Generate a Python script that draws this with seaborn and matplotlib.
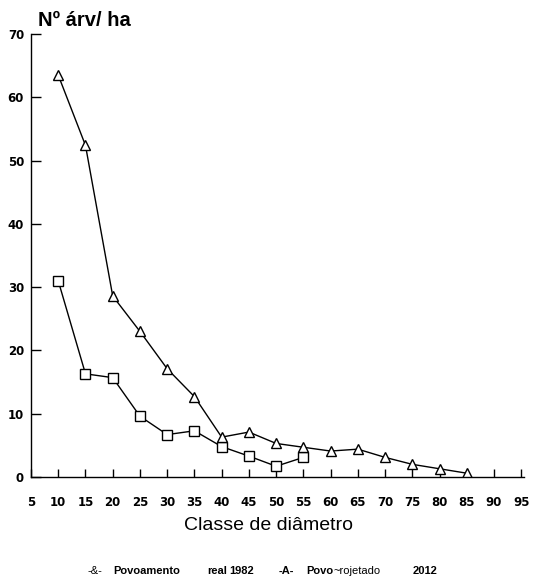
import matplotlib
matplotlib.use("Agg")
import matplotlib.pyplot as plt
import seaborn as sns
import pandas as pd

# Diameter classes (cm) and trees per hectare
classes_proj = [10, 15, 20, 25, 30, 35, 40, 45, 50, 55, 60, 65, 70, 75, 80, 85]
trees_proj = [63.5, 52.4, 28.6, 23.0, 17.1, 12.7, 6.3, 7.1, 5.3, 4.7, 4.1, 4.4, 3.1, 2.0, 1.3, 0.6]

classes_real = [10, 15, 20, 25, 30, 35, 40, 45, 50, 55]
trees_real = [31.0, 16.3, 15.7, 9.6, 6.7, 7.3, 4.8, 3.3, 1.7, 3.1]

x_ticks = list(range(5, 100, 5))
y_ticks = [0, 10, 20, 30, 40, 50, 60, 70]

sns.set_style("ticks")
plt.rcParams["font.family"] = ["DejaVu Sans"]
plt.rcParams["text.color"] = "black"
plt.rcParams["xtick.color"] = "black"
plt.rcParams["ytick.color"] = "black"

W, H = 535, 582
fig = plt.figure(figsize=(W / 100, H / 100), dpi=100)
ax = fig.add_axes([31 / W, (H - 477) / H, 493 / W, 443 / H])

df_real = pd.DataFrame({"classe": classes_real, "n": trees_real})
df_proj = pd.DataFrame({"classe": classes_proj, "n": trees_proj})

sns.lineplot(data=df_real, x="classe", y="n", ax=ax, color="black", lw=1.0,
             marker="s", markersize=6.5, markerfacecolor="white",
             markeredgecolor="black", markeredgewidth=1.0)
sns.lineplot(data=df_proj, x="classe", y="n", ax=ax, color="black", lw=1.0,
             marker="^", markersize=7.5, markerfacecolor="white",
             markeredgecolor="black", markeredgewidth=1.0)

ax.set_xlim(5, 95.5)
ax.set_ylim(0, 70)
ax.set_xticks(x_ticks)
ax.set_yticks(y_ticks)
ax.set_xticklabels([str(v) for v in x_ticks], fontsize=8.5, fontweight="bold", color="black")
ax.set_yticklabels([str(v) for v in y_ticks], fontsize=8.5, fontweight="bold", color="black")
ax.tick_params(axis="x", direction="in", length=6, width=1, pad=14)
ax.tick_params(axis="y", direction="in", length=7, width=1, pad=5)
for side in ("top", "right"):
    ax.spines[side].set_visible(False)
for side in ("left", "bottom"):
    ax.spines[side].set_linewidth(1.0)
    ax.spines[side].set_color("black")
ax.set_xlabel("")
ax.set_ylabel("")

# Axis titles
fig.text(38 / W, 1 - 20 / H, "Nº árv/ ha", fontsize=14.5, fontweight="bold",
         family="Liberation Sans", ha="left", va="center", color="black")
fig.text(268 / W, 1 - 526 / H, "Classe de diâmetro", fontsize=14,
         family="Liberation Sans", ha="center", va="center", color="black")

# Series key line under the chart
key_y = 1 - 571 / H
pieces = [
    (88, "-&-", "normal"),
    (113, "Povoamento", "bold"),
    (207, "real", "bold"),
    (229, "1982", "bold"),
    (279, "-A-", "bold"),
    (306, "Povo", "bold"),
    (334, "~rojetado", "normal"),
    (413, "2012", "bold"),
]
for px, txt, wt in pieces:
    fig.text(px / W, key_y, txt, fontsize=8, fontweight=wt,
             family="Liberation Sans", ha="left", va="center", color="black")

fig.savefig("out.png", dpi=100, facecolor="white")
